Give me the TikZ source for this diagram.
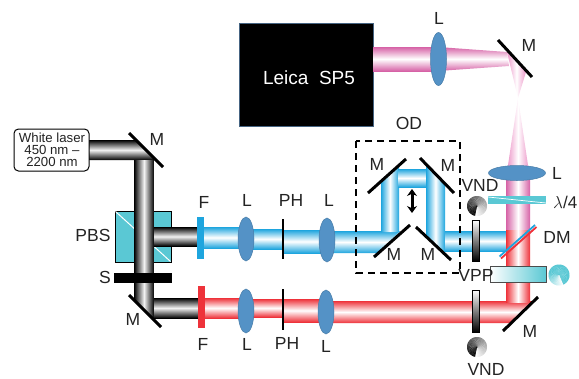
\documentclass[tikz,border=0pt]{standalone}
\usepackage{amsmath,amssymb}
\usepackage{fontspec}
\setmainfont{Liberation Sans}
\usetikzlibrary{arrows.meta}
\definecolor{beamblue}{RGB}{30,165,222}
\definecolor{beamred}{RGB}{238,50,58}
\definecolor{beampink}{RGB}{214,98,166}
\definecolor{coneP}{RGB}{236,150,200}
\definecolor{lensblue}{RGB}{84,146,198}
\definecolor{cubeteal}{RGB}{90,200,212}
\definecolor{labelgray}{RGB}{35,35,35}
\tikzset{
  lab/.style={font=\fontsize{17.5}{17.5}\selectfont,text=labelgray,inner sep=0pt},
  lens/.style={fill=lensblue,draw=lensblue!85!black,line width=0.5pt},
  mirror/.style={line width=3pt,black},
  hblue/.style={top color=beamblue,bottom color=beamblue,middle color=white},
  hred/.style={top color=beamred,bottom color=beamred,middle color=white},
  hpink/.style={top color=beampink,bottom color=beampink,middle color=white},
  hgray/.style={top color=black,bottom color=black,middle color=gray!10},
  vblue/.style={left color=beamblue,right color=beamblue,middle color=white},
  vred/.style={left color=beamred,right color=beamred,middle color=white},
  vpink/.style={left color=beampink,right color=beampink,middle color=white},
  vcone/.style={left color=coneP,right color=coneP,middle color=white},
  vgray/.style={left color=black,right color=black,middle color=gray!10},
}
% wheel: centre, radius, colour, start angle, fade
\newcommand{\graywheel}[2]{
  \foreach \a in {0,6,...,354}{
    \pgfmathsetmacro{\pct}{\a/3.6}
    \fill[black!\pct!white] (#1,#2) -- ++(265+\a:10pt) arc[start angle=265+\a,delta angle=-7,radius=10pt] -- cycle;
  }
}
\newcommand{\tealwheel}[2]{
  \foreach \a in {0,6,...,354}{
    \pgfmathsetmacro{\pct}{min(100,(360-\a)/1.3)}
    \fill[cubeteal!\pct!white] (#1,#2) -- ++(300+\a:10.5pt) arc[start angle=300+\a,delta angle=-7,radius=10.5pt] -- cycle;
  }
}
\begin{document}
\begin{tikzpicture}[x=1pt,y=-1pt]
  \useasboundingbox (0,0) rectangle (579,378);
  % microscope
  \node[fill=black,draw={rgb,255:red,70;green,100;blue,130},line width=0.5pt,minimum width=134pt,minimum height=103pt,inner sep=0pt] (sp5) at (306,74.5) {};
  \node[text=white,font=\fontsize{19}{19}\selectfont,inner sep=0pt] (sp5txt) at (309,78) {Leica\ \ SP5};
  \shade[hpink] (373,47) rectangle (438,71);
  \shade[hpink] (438,47) -- (507,52) -- (509,66) -- (438,71) -- cycle;
  \shade[vcone] (507,52) -- (526,72) -- (518,98) -- cycle;
  \shade[vcone] (518,98) -- (507,172) -- (529,172) -- cycle;
  \shade[vpink] (506,172) rectangle (530,230);
  % white laser and grey beams
  \shade[hgray] (89,140) -- (136,140) -- (156,160) -- (89,160) -- cycle;
  \node[draw=black,fill=white,line width=1pt,rounded corners=4.5pt,minimum width=75pt,minimum height=42pt,inner sep=0pt] (laser) at (51.5,150) {};
  \node[font=\fontsize{13.2}{12}\selectfont,text=labelgray,align=center,inner sep=0pt] (lasertxt) at (52,150) {White laser\\450 nm --\\2200 nm};
  \node[fill=cubeteal,draw=black,line width=0.6pt,minimum width=56pt,minimum height=51pt,inner sep=0pt] (pbs) at (143,236.5) {};
  \draw[white,line width=1pt] (115.5,211.5) -- (170.5,261.5);
  \shade[hgray] (154,227) rectangle (198,246);
  \shade[hgray] (154,298) rectangle (198,318);
  \shade[vgray] (134,160) -- (154,160) -- (154,319) -- (134,300) -- cycle;
  \fill[black] (114,273) rectangle (172,283);
  \draw[mirror] (129,133) -- (163,167);
  \draw[mirror] (129,295) -- (161,327);
  % blue arm
  \fill[beamblue] (197,217) rectangle (204,259);
  \shade[hblue] (204,227) rectangle (246,248);
  \shade[hblue] (246,229) rectangle (283,249);
  \shade[hblue] (283,230) rectangle (327,253);
  \shade[hblue] (327,231) -- (400,231) -- (378,253) -- (327,253) -- cycle;
  \shade[vblue] (381,232) -- (399,232) -- (399,165) -- (381,183) -- cycle;
  \shade[hblue] (398,169) rectangle (426,187);
  \shade[vblue] (426,164) -- (445,183) -- (445,256) -- (426,237) -- cycle;
  \shade[hblue] (445,231) rectangle (506,251);
  % red arm
  \fill[beamred] (198,286) rectangle (205,328);
  \shade[hred] (205,298) rectangle (246,318);
  \shade[hred] (246,299) rectangle (283,317);
  \shade[hred] (283,299) rectangle (326,322);
  \shade[hred] (326,301) -- (533,301) -- (511,323) -- (326,323) -- cycle;
  \shade[vred] (506,230) rectangle (530,302);
  % lenses
  \foreach \lx/\ly in {246/239,327/240,246/311,326/312}{
    \draw[lens] (\lx,\ly) ellipse (8pt and 22pt);
  }
  \draw[lens] (438.5,59) ellipse (8pt and 26.5pt);
  \draw[lens] (517,173) ellipse (28.5pt and 7.5pt);
  % pinholes
  \draw[line width=1.5pt,black] (283,219) -- (283,259);
  \draw[line width=1.5pt,black] (283,289) -- (283,330);
  % delay box
  \draw[black,line width=2.2pt,dash pattern=on 7pt off 5pt] (356,141) rectangle (460,273);
  \draw[mirror] (368,193) -- (406,159);
  \draw[mirror] (420,158) -- (454,193);
  \draw[mirror] (374,257) -- (410,225);
  \draw[mirror] (416,227) -- (451,260);
  \draw[{Stealth[length=7pt,width=10pt]}-{Stealth[length=7pt,width=10pt]},line width=3pt,black] (412,189) -- (412,213);
  % right hand parts
  \draw[mirror] (498,40) -- (532,77);
  \draw[mirror] (503,331) -- (538,297);
  \node[fill=cubeteal,minimum width=58pt,minimum height=8pt,inner sep=0pt] (qwp) at (517,200) {};
  \draw[white,line width=0.7pt] (488,197) -- (546,203);
  \draw[beamblue,line width=1.8pt] (499.5,256.5) -- (535,225);
  \draw[beamred,line width=1.8pt] (501,258.5) -- (536.5,227);
  \shade[left color=white,right color=cubeteal,draw=black!70,line width=0.7pt] (490,266) rectangle (546,282);
  \tealwheel{559}{275}
  \graywheel{477}{206}
  \graywheel{477}{347}
  \shade[top color=white,bottom color=black,draw=black,line width=0.5pt] (472,220) rectangle (479,261);
  \shade[top color=white,bottom color=black,draw=black,line width=0.5pt] (472,290) rectangle (479,332);
  % labels
  \node[lab] (mtop) at (157,139) {M};
  \node[lab] (mbot) at (133,319) {M};
  \node[lab] (pbstxt) at (93,235) {PBS};
  \node[lab] (stxt) at (105,277) {S};
  \node[lab] (ftop) at (204,202) {F};
  \node[lab] (fbot) at (203,344) {F};
  \node[lab] (l1) at (247,200) {L};
  \node[lab] (ph1) at (291,200) {PH};
  \node[lab] (l2) at (329,200) {L};
  \node[lab] (l3) at (247,344) {L};
  \node[lab] (ph2) at (287,343) {PH};
  \node[lab] (l4) at (326,346) {L};
  \node[lab] (odtxt) at (409,123) {OD};
  \node[lab] (m1) at (377,164) {M};
  \node[lab] (m2) at (448,165) {M};
  \node[lab] (m3) at (394,254) {M};
  \node[lab] (m4) at (428,254) {M};
  \node[lab] (ltop) at (439,18) {L};
  \node[lab] (mright) at (529,45) {M};
  \node[lab] (lright) at (557,173) {L};
  \node[font=\fontsize{17}{17}\selectfont,text=labelgray,inner sep=0pt,anchor=west] (qwptxt) at (553,202) {$\lambda$/4};
  \node[lab] (dmtxt) at (557,237) {DM};
  \node[lab] (mlow) at (530,331) {M};
  \node[lab] (vnd1) at (480,185) {VND};
  \node[lab] (vpp) at (476,275) {VPP};
  \node[lab] (vnd2) at (486,369.5) {VND};
\end{tikzpicture}
\end{document}
